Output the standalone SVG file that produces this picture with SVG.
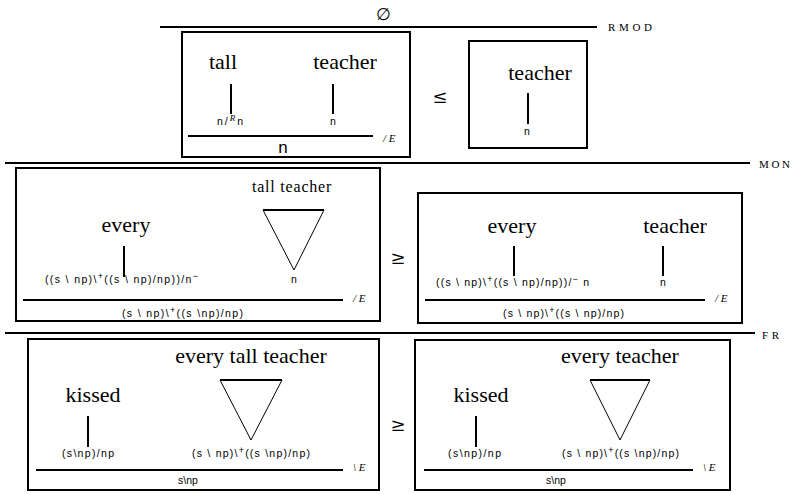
<svg xmlns="http://www.w3.org/2000/svg" width="793" height="494" viewBox="0 0 793 494">
<style>
.w{font-family:"Liberation Serif",serif;font-size:22px;text-anchor:middle;fill:#000}
.ws{font-family:"Liberation Serif",serif;font-size:16px;letter-spacing:0.8px;text-anchor:middle;fill:#000}
.t{font-family:"Liberation Sans",sans-serif;font-size:10.5px;text-anchor:middle;fill:#000}
.sc{font-family:"Liberation Serif",serif;font-size:11px;fill:#000}
.r{font-family:"Liberation Serif",serif;font-size:11px;font-style:italic;fill:#000}
.box{fill:none;stroke:#000;stroke-width:2}
.rule{stroke:#000;stroke-width:2}
.stem{stroke:#000;stroke-width:2}
.tri{fill:none;stroke:#000;stroke-width:1}
.sym{font-family:"DejaVu Serif","Liberation Serif",serif;font-size:18px;text-anchor:middle;fill:#000}
.sup{font-size:9px}
</style>
<g id="connectors">
<line class="rule" x1="160" y1="27" x2="597" y2="27"/>
<line class="rule" x1="5" y1="163" x2="750" y2="163"/>
<line class="rule" x1="5" y1="333" x2="755" y2="333"/>
</g>
<g id="rule-labels">
<text class="sym" x="383" y="20" style="font-size:17px">∅</text>
<text class="sc" x="608" y="31" textLength="44">RMOD</text>
<text class="sc" x="759" y="168" textLength="31">MON</text>
<text class="sc" x="762" y="339" textLength="17">FR</text>
</g>
<g id="box1">
<rect class="box" x="182" y="32" width="228" height="125"/>
<text class="w" x="223" y="69">tall</text>
<text class="w" x="345" y="69">teacher</text>
<line class="stem" x1="231" y1="84" x2="231" y2="114"/>
<line class="stem" x1="333" y1="84" x2="333" y2="114"/>
<text class="t" x="217" y="125" style="text-anchor:start" textLength="26">n<tspan>/</tspan><tspan dy="-4" style="font-family:'Liberation Serif',serif;font-style:italic;font-size:9px">R</tspan><tspan dy="4">n</tspan></text>
<text class="t" x="333" y="125">n</text>
<line class="rule" x1="188" y1="136" x2="373" y2="136"/>
<text class="t" x="283" y="153" style="font-size:17px">n</text>
<text class="r" x="383" y="142">/ E</text>
</g>
<text class="sym" x="440" y="103">≤</text>
<g id="box2">
<rect class="box" x="469" y="41" width="118" height="107"/>
<text class="w" x="540" y="80">teacher</text>
<line class="stem" x1="528" y1="93" x2="528" y2="124"/>
<text class="t" x="527" y="135">n</text>
</g>
<g id="box3">
<rect class="box" x="16" y="168" width="364" height="153"/>
<text class="ws" x="292" y="192">tall teacher</text>
<line class="rule" x1="263" y1="210" x2="324" y2="210"/>
<polyline class="tri" points="263,210 294,270 324,210"/>
<text class="w" x="126" y="232">every</text>
<line class="stem" x1="124" y1="246" x2="124" y2="277"/>
<text class="t" x="45" y="283" style="text-anchor:start" textLength="153">((s \ np)\<tspan class="sup" dy="-4">+</tspan><tspan dy="4">((s \ np)/np))/n</tspan><tspan class="sup" dy="-4">−</tspan></text>
<text class="t" x="294" y="283">n</text>
<line class="rule" x1="23" y1="300" x2="343" y2="300"/>
<text class="r" x="353" y="302">/ E</text>
<text class="t" x="122" y="317" style="text-anchor:start" textLength="121">(s \ np)\<tspan class="sup" dy="-4">+</tspan><tspan dy="4">((s \np)/np)</tspan></text>
</g>
<text class="sym" x="398" y="264">≥</text>
<g id="box4">
<rect class="box" x="418" y="193" width="324" height="130"/>
<text class="w" x="512" y="233">every</text>
<text class="w" x="675" y="233">teacher</text>
<line class="stem" x1="514" y1="246" x2="514" y2="276"/>
<line class="stem" x1="663" y1="246" x2="663" y2="276"/>
<text class="t" x="436" y="286" style="text-anchor:start" textLength="153">((s \ np)\<tspan class="sup" dy="-4">+</tspan><tspan dy="4">((s \ np)/np))/</tspan><tspan class="sup" dy="-4">−</tspan><tspan dy="4"> n</tspan></text>
<text class="t" x="663" y="286">n</text>
<line class="rule" x1="425" y1="300" x2="705" y2="300"/>
<text class="r" x="715" y="302">/ E</text>
<text class="t" x="503" y="317" style="text-anchor:start" textLength="121">(s \ np)\<tspan class="sup" dy="-4">+</tspan><tspan dy="4">((s \ np)/np)</tspan></text>
</g>
<g id="box5">
<rect class="box" x="28" y="339" width="351" height="151"/>
<text class="w" x="251" y="363">every tall teacher</text>
<line class="rule" x1="220" y1="380" x2="282" y2="380"/>
<polyline class="tri" points="220,380 251,440 282,380"/>
<text class="w" x="93" y="402">kissed</text>
<line class="stem" x1="88" y1="416" x2="88" y2="447"/>
<text class="t" x="62" y="457" style="text-anchor:start" textLength="52">(s\np)/np</text>
<text class="t" x="192" y="457" style="text-anchor:start" textLength="118">(s \ np)\<tspan class="sup" dy="-4">+</tspan><tspan dy="4">((s \np)/np)</tspan></text>
<line class="rule" x1="36" y1="470" x2="343" y2="470"/>
<text class="r" x="353" y="471">\ E</text>
<text class="t" x="188" y="484">s\np</text>
</g>
<text class="sym" x="398" y="431">≥</text>
<g id="box6">
<rect class="box" x="415" y="340" width="315" height="150"/>
<text class="w" x="620" y="363">every teacher</text>
<line class="rule" x1="590" y1="380" x2="650" y2="380"/>
<polyline class="tri" points="590,380 620,440 650,380"/>
<text class="w" x="481" y="402">kissed</text>
<line class="stem" x1="476" y1="416" x2="476" y2="447"/>
<text class="t" x="448" y="457" style="text-anchor:start" textLength="53">(s\np)/np</text>
<text class="t" x="562" y="457" style="text-anchor:start" textLength="117">(s \ np)\<tspan class="sup" dy="-4">+</tspan><tspan dy="4">((s \np)/np)</tspan></text>
<line class="rule" x1="424" y1="470" x2="693" y2="470"/>
<text class="r" x="703" y="471">\ E</text>
<text class="t" x="556" y="484">s\np</text>
</g>
</svg>
